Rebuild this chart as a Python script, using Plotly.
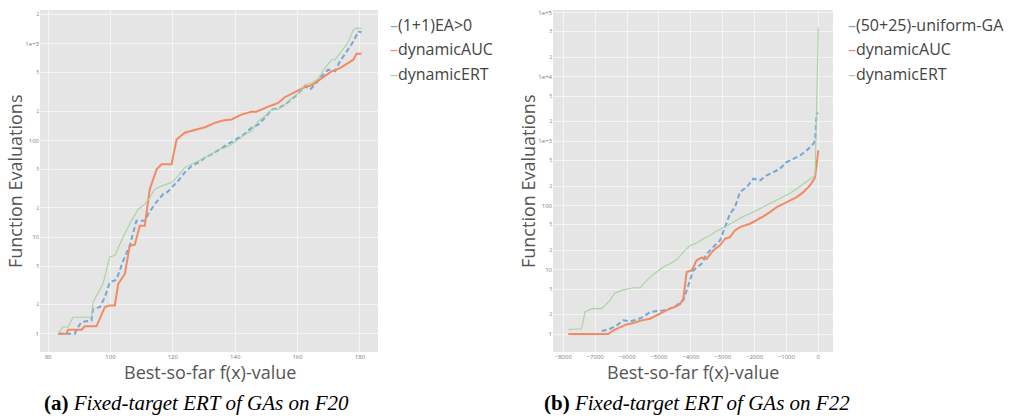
import plotly.graph_objects as go

# ---------------- Data: F20 (left panel) ----------------
f20_ea_x = [83.2, 85.3, 87.0, 88.6, 89.1, 90.7, 93.9, 94.4, 96.6, 98.2, 99.8, 101.9, 104.1, 106.2, 108.3,
            111.0, 112.1, 114.2, 116.9, 118.5, 119.6, 121.7, 123.8, 126.0, 128.1, 130.3, 132.4, 134.5, 136.7, 138.8,
            141.0, 143.1, 145.2, 147.4, 149.5, 151.7, 153.8, 155.9, 158.1, 160.2, 162.4, 164.0, 165.6, 167.7, 169.8,
            172.0, 173.6, 175.7, 177.9, 179.5, 180.5]
f20_ea_y = [1, 1, 1, 1, 1.10, 1.32, 1.37, 1.81, 1.88, 2.39, 3.41, 3.60, 5.70, 8.14, 14.7,
            14.7, 17.3, 21.9, 27.8, 29.6, 32.5, 38.1, 46.4, 54.4, 58.9, 66.2, 71.8, 78.9, 87.4, 94.6,
            106, 117, 135, 146, 171, 209, 214, 235, 265, 305, 366, 336, 378, 460, 540,
            519, 658, 834, 1057, 1340, 1319]

f20_auc_x = [83.2, 85.9, 86.4, 90.7, 91.8, 95.5, 98.2, 99.8, 101.4, 102.5, 104.6, 106.2, 107.8, 109.4, 111.0,
             112.6, 114.8, 116.4, 119.6, 121.2, 123.8, 126.0, 130.3, 133.5, 136.1, 138.8, 142.0, 145.2, 146.8,
             150.6, 153.8, 155.9, 159.1, 162.4, 164.5, 167.7, 170.9, 173.6, 175.2, 177.9, 178.9, 180.5]
f20_auc_y = [1, 1, 1.10, 1.10, 1.19, 1.19, 1.88, 1.96, 1.96, 3.28, 4.15, 8.14, 8.34, 13.1, 13.1,
             31.2, 50.2, 56.6, 56.6, 102, 120, 125, 137, 152, 161, 165, 185, 198, 198,
             224, 245, 280, 318, 357, 372, 443, 519, 561, 608, 685, 789, 789]

f20_ert_x = [83.2, 84.8, 86.4, 88.0, 93.9, 94.4, 97.6, 99.8, 101.4, 103.5, 106.7, 108.9, 111.0, 112.6, 114.2,
             116.4, 118.5, 119.6, 121.7, 123.8, 126.0, 128.1, 130.3, 132.4, 134.5, 136.7, 138.8, 141.0, 143.1,
             145.2, 147.4, 149.5, 151.7, 153.8, 155.9, 158.1, 160.2, 162.4, 164.5, 166.6, 168.8, 170.9, 172.0,
             174.1, 176.3, 177.9, 178.9, 180.5]
f20_ert_y = [1, 1.17, 1.17, 1.48, 1.48, 2.12, 3.28, 6.27, 6.42, 9.17, 14.7, 19.4, 21.9, 25.6, 31.2,
             33.8, 35.7, 36.6, 42.9, 52.3, 56.6, 61.2, 66.2, 71.8, 80.7, 84.0, 90.9, 102, 115,
             125, 158, 178, 209, 209, 235, 275, 305, 378, 393, 436, 561, 685, 685,
             834, 1057, 1394, 1452, 1452]

# ---------------- Data: F22 (right panel) ----------------
f22_ga_x = [-6797, -6588, -6326, -6117, -5908, -5699, -5490, -5280, -5071, -4862, -4653, -4444, -4234, -4130,
            -3921, -3659, -3502, -3293, -3084, -2927, -2770, -2613, -2456, -2247, -2038, -1829, -1619, -1410,
            -1201, -992, -782, -573, -364, -155, -102, -50, 0]
f22_ga_y = [1.11, 1.17, 1.36, 1.63, 1.57, 1.67, 1.84, 2.20, 2.28, 2.33, 2.48, 2.79, 3.34, 4.89,
            9.77, 12.4, 17.7, 22.5, 28.6, 46.0, 74.2, 94.2, 161, 193, 260, 245, 293, 330,
            372, 472, 531, 599, 716, 909, 1024, 2660, 2724]

f22_auc_x = [-7843, -6588, -6431, -6222, -6013, -5803, -5542, -5280, -5071, -4810, -4653, -4496, -4339, -4234,
             -4130, -3973, -3816, -3659, -3502, -3293, -3084, -2927, -2770, -2613, -2456, -2142, -1933, -1724,
             -1515, -1306, -1096, -887, -678, -469, -260, -155, -102, -50, 0]
f22_auc_y = [1, 1, 1.14, 1.28, 1.41, 1.48, 1.63, 1.73, 1.95, 2.20, 2.48, 2.63, 2.89, 3.54,
             9.20, 9.77, 14.0, 15.4, 14.8, 20.0, 23.9, 30.3, 32.2, 40.8, 46.0, 51.9, 58.5, 67.5,
             78.8, 94.2, 106, 120, 135, 161, 205, 245, 276, 444, 716]

f22_ert_x = [-7843, -7425, -7320, -7111, -6797, -6693, -6536, -6379, -6170, -5960, -5803, -5594, -5437, -5280,
             -5071, -4862, -4653, -4444, -4234, -4025, -3816, -3607, -3398, -3188, -2979, -2770, -2561, -2352,
             -2142, -1933, -1724, -1515, -1306, -1096, -887, -678, -469, -260, -102, -50, 0]
f22_ert_y = [1.17, 1.21, 2.20, 2.48, 2.48, 2.79, 3.34, 4.34, 4.77, 5.07, 5.25, 5.25, 6.43, 7.69,
             9.20, 11.0, 12.4, 14.3, 18.8, 23.9, 26.0, 30.3, 34.2, 39.9, 45.0, 51.9, 58.5, 67.5,
             74.2, 83.6, 94.2, 106, 120, 138, 155, 182, 217, 260, 293, 3377, 59160]

names_left = ["(1+1)EA>0", "dynamicAUC", "dynamicERT"]
names_right = ["(50+25)-uniform-GA", "dynamicAUC", "dynamicERT"]
x_title = "Best-so-far f(x)-value"
y_title = "Function Evaluations"
caption_left = ("(a)", "Fixed-target ERT of GAs on F20")
caption_right = ("(b)", "Fixed-target ERT of GAs on F22")

BLUE = "#72a7d6"
ORANGE = "#f38a63"
GREEN = "#a5d4a0"
styles = [dict(color=BLUE, width=2, dash="5px,3px"),
          dict(color=ORANGE, width=2, dash="solid"),
          dict(color=GREEN, width=1.1, dash="solid")]

fig = go.Figure()
left_data = [(f20_ea_x, f20_ea_y), (f20_auc_x, f20_auc_y), (f20_ert_x, f20_ert_y)]
right_data = [(f22_ga_x, f22_ga_y), (f22_auc_x, f22_auc_y), (f22_ert_x, f22_ert_y)]
for (xs, ys), nm, st in zip(left_data, names_left, styles):
    fig.add_trace(go.Scatter(x=xs, y=ys, name=nm, mode="lines", line=st,
                             xaxis="x", yaxis="y", showlegend=False))
for (xs, ys), nm, st in zip(right_data, names_right, styles):
    fig.add_trace(go.Scatter(x=xs, y=ys, name=nm, mode="lines", line=st,
                             xaxis="x2", yaxis="y2", showlegend=False))

W, H = 1015, 419
def px(xp):
    return xp / W
def py(yp):
    return 1 - yp / H

tickfont = dict(family="Open Sans, sans-serif", size=6, color="#7a7a7a")
titlefont = dict(family="Open Sans, sans-serif", size=18, color="#555555")
common_x = dict(showgrid=True, gridcolor="#f4f4f4", gridwidth=1, zeroline=False, ticks="",
                tickfont=tickfont, showline=False)
common_y = dict(type="log", dtick="D2", exponentformat="e", showgrid=True, gridcolor="#f4f4f4",
                gridwidth=1, zeroline=False, ticks="", tickfont=tickfont, showline=False)

fig.update_layout(
    width=W, height=H,
    margin=dict(l=0, r=0, t=0, b=0),
    paper_bgcolor="white",
    plot_bgcolor="#e5e5e5",
    showlegend=False,
    xaxis=dict(domain=[px(40), px(378)], range=[77.4, 185.8], dtick=20, tick0=80,
               anchor="y", **common_x),
    yaxis=dict(domain=[py(352), py(10)], range=[-0.19, 3.35], anchor="x", **common_y),
    xaxis2=dict(domain=[px(553), px(833)], range=[-8324, 462], dtick=1000, tick0=0,
                anchor="y2", **common_x),
    yaxis2=dict(domain=[py(352), py(10)], range=[-0.28, 5.04], anchor="x2", **common_y),
)

ann = []
# axis titles
for cx in (210, 693):
    ann.append(dict(text=x_title, x=px(cx), y=py(372), xref="paper", yref="paper",
                    xanchor="center", yanchor="middle", showarrow=False, font=titlefont))
for cx in (15, 528):
    ann.append(dict(text=y_title, x=px(cx), y=py(182), xref="paper", yref="paper",
                    xanchor="center", yanchor="middle", showarrow=False, font=titlefont,
                    textangle=-90))
# legends
legfont = dict(family="Open Sans, sans-serif", size=16, color="#444444")
for names, lx in ((names_left, 388), (names_right, 846)):
    for i, (nm, st) in enumerate(zip(names, styles)):
        ann.append(dict(text=f"<span style='color:{st['color']}'>–</span>{nm}",
                        x=px(lx), y=py(25 + 24.5 * i), xref="paper", yref="paper",
                        xanchor="left", yanchor="middle", showarrow=False, font=legfont))
# captions
capfont = dict(family="Liberation Serif, serif", size=21, color="black")
for (lab, txt), cx in ((caption_left, 196), (caption_right, 697)):
    ann.append(dict(text=f"<b>{lab}</b> <i>{txt}</i>", x=px(cx), y=py(403), xref="paper",
                    yref="paper", xanchor="center", yanchor="middle", showarrow=False,
                    font=capfont))
fig.update_layout(annotations=ann)

fig.write_html("out.html")
